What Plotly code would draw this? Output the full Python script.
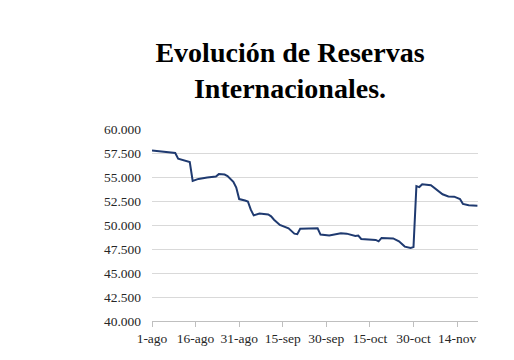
import datetime as dt
import plotly.graph_objects as go

# days after 1-ago and reserve values (millions)
day_offsets = [0, 2, 5, 8, 9, 11, 13, 14, 16, 19, 22, 23, 25, 26, 28, 29, 30, 32, 33, 34,
               35, 37, 40, 41, 42, 44, 47, 49, 50, 51, 54, 57, 58, 61, 65, 67, 70, 71, 72,
               77, 78, 79, 83, 85, 87, 89, 90, 91, 92, 93, 96, 98, 100, 102, 104, 106,
               107, 109, 112]
reserves = [57770, 57720, 57650, 57500, 56900, 56750, 56550, 54600, 54800, 54950, 55050,
            55300, 55250, 55100, 54500, 53900, 52700, 52550, 52450, 51600, 51000, 51200,
            51100, 50900, 50550, 50000, 49650, 49100, 49050, 49600, 49650, 49650, 49000,
            48900, 49150, 49100, 48850, 48900, 48550, 48450, 48300, 48650, 48600, 48300,
            47750, 47600, 47700, 54050, 53950, 54250, 54150, 53700, 53200, 52980, 52950,
            52700, 52200, 52050, 52000]

tick_offsets = [0, 15, 30, 45, 60, 75, 90, 105]
tick_labels = ["1-ago", "16-ago", "31-ago", "15-sep", "30-sep", "15-oct", "30-oct", "14-nov"]

start = dt.datetime(2019, 8, 1)
dates = [start + dt.timedelta(days=d) for d in day_offsets]
tick_dates = [start + dt.timedelta(days=d) for d in tick_offsets]

fig = go.Figure()
fig.add_trace(go.Scatter(x=dates, y=reserves, mode="lines",
                         line=dict(color="#1F3A70", width=2), hoverinfo="skip"))

font = "Liberation Serif, Times New Roman, serif"
fig.update_layout(
    width=514, height=360,
    margin=dict(l=144, r=44, t=121, b=47),
    paper_bgcolor="white", plot_bgcolor="white",
    showlegend=False,
    separators=",.",
    font=dict(family=font, size=13.5, color="#404040"),
    title=dict(text="<b>Evolución de Reservas<br>Internacionales.</b>",
               font=dict(family=font, size=28, color="black"),
               x=282/514, xanchor="center", xref="container",
               y=0.85, yanchor="top", yref="container"),
)
fig.update_xaxes(type="date", range=[start, start + dt.timedelta(days=112.2)],
                 tickvals=tick_dates, ticktext=tick_labels,
                 showgrid=False, showline=True, linecolor="#bfbfbf", linewidth=1,
                 ticks="outside", ticklen=5, tickcolor="#bfbfbf",
                 tickfont=dict(family=font, size=13.5, color="#262626"))
fig.update_yaxes(range=[40000, 60000], dtick=2500, tick0=40000, tickformat=",.0f",
                 showgrid=True, gridcolor="#d9d9d9", gridwidth=1,
                 zeroline=False, showline=False, ticks="", ticklabelstandoff=10,
                 tickfont=dict(family=font, size=13.5, color="#262626"))

fig.write_html("out.html")
